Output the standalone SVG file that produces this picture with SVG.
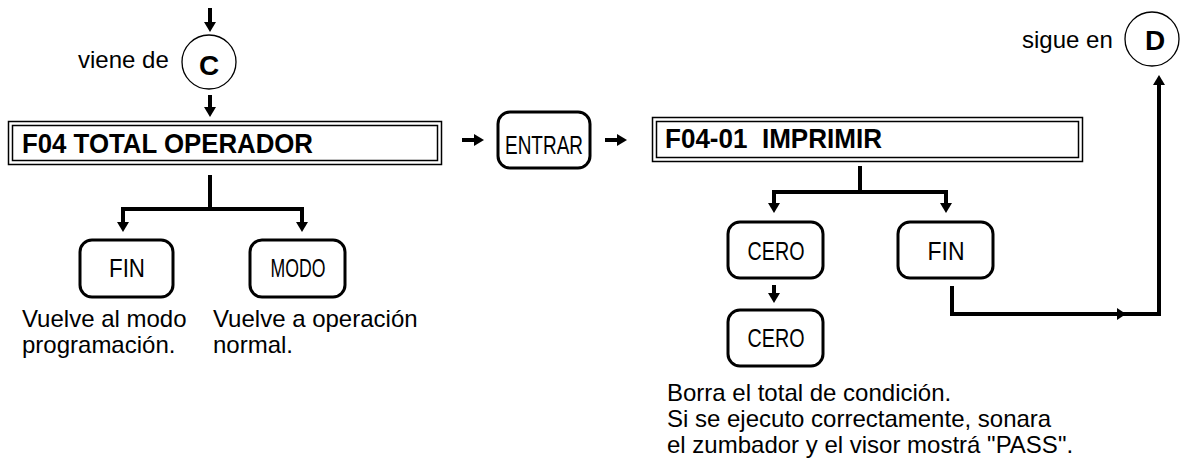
<svg xmlns="http://www.w3.org/2000/svg" width="1182" height="463" viewBox="0 0 1182 463">
<style>
.bg{fill:#fff}
.key{fill:#fff;stroke:#000;stroke-width:3}
.ring{fill:#fff;stroke:#000;stroke-width:1.3}
.frame{fill:none;stroke:#000;stroke-width:1.5}
.conn{fill:none;stroke:#000;stroke-width:4}
.t{font-family:"Liberation Sans",Arial,sans-serif;font-size:24px;fill:#000}
.k{font-family:"Liberation Sans",Arial,sans-serif;font-size:25px;fill:#000;text-anchor:middle}
.h{font-family:"Liberation Sans",Arial,sans-serif;font-size:28px;font-weight:bold;fill:#000}
.c{font-family:"Liberation Sans",Arial,sans-serif;font-size:28px;font-weight:bold;fill:#000;text-anchor:middle}
</style>
<defs>
<marker id="ah" viewBox="0 0 10 12" refX="0" refY="6" markerWidth="10" markerHeight="12" markerUnits="userSpaceOnUse" orient="auto">
<path d="M0,0 L10,6 L0,12 Z" fill="#000"/>
</marker>
</defs>
<rect class="bg" x="0" y="0" width="1182" height="463"/>

<g id="connectors">
<path class="conn" d="M210,8 V22" marker-end="url(#ah)"/>
<path class="conn" d="M210,95 V107" marker-end="url(#ah)"/>
<path class="conn" d="M210,175 V209"/>
<path class="conn" d="M121,209 H304"/>
<path class="conn" d="M123,207 V222" marker-end="url(#ah)"/>
<path class="conn" d="M302,207 V222" marker-end="url(#ah)"/>
<path class="conn" d="M462,140 H474" marker-end="url(#ah)"/>
<path class="conn" d="M605,140 H617" marker-end="url(#ah)"/>
<path class="conn" d="M860,166 V192"/>
<path class="conn" d="M772,192 H948"/>
<path class="conn" d="M774,190 V203" marker-end="url(#ah)"/>
<path class="conn" d="M946,190 V203" marker-end="url(#ah)"/>
<path class="conn" d="M774,285 V293" marker-end="url(#ah)"/>
<path class="conn" d="M952,286 V314 H1159 V85" marker-end="url(#ah)"/>
<path d="M1117,308 L1126,314 L1117,320 Z" fill="#000"/>
</g>

<g id="node-c">
<text class="t" x="78" y="68">viene de</text>
<circle class="ring" cx="209" cy="62" r="27"/>
<text class="c" x="209" y="75">C</text>
</g>

<g id="node-f04">
<rect class="frame" x="8.5" y="121.5" width="433" height="43"/>
<rect class="frame" x="12.5" y="125.5" width="425" height="35"/>
<text class="h" x="22" y="153" textLength="291" lengthAdjust="spacingAndGlyphs">F04 TOTAL OPERADOR</text>
</g>

<g id="node-fin1">
<rect class="key" x="80" y="240" width="93" height="57" rx="12"/>
<text class="k" x="127" y="277" textLength="36" lengthAdjust="spacingAndGlyphs">FIN</text>
<text class="t" x="22" y="327">Vuelve al modo</text>
<text class="t" x="22" y="353">programación.</text>
</g>

<g id="node-modo">
<rect class="key" x="250" y="240" width="95" height="57" rx="12"/>
<text class="k" x="298" y="277" textLength="55" lengthAdjust="spacingAndGlyphs">MODO</text>
<text class="t" x="213" y="327">Vuelve a operación</text>
<text class="t" x="213" y="353">normal.</text>
</g>

<g id="node-entrar">
<rect class="key" x="498" y="112" width="92" height="56" rx="12"/>
<text class="k" x="544" y="154" font-size="28" textLength="78" lengthAdjust="spacingAndGlyphs">ENTRAR</text>
</g>

<g id="node-f0401">
<rect class="frame" x="652.5" y="117.5" width="430" height="44"/>
<rect class="frame" x="656.5" y="121.5" width="422" height="36"/>
<text class="h" x="665" y="148" textLength="217" lengthAdjust="spacingAndGlyphs" xml:space="preserve">F04-01  IMPRIMIR</text>
</g>

<g id="node-cero1">
<rect class="key" x="728" y="222" width="95" height="56" rx="12"/>
<text class="k" x="776" y="260" textLength="57" lengthAdjust="spacingAndGlyphs">CERO</text>
</g>

<g id="node-cero2">
<rect class="key" x="728" y="310" width="95" height="56" rx="12"/>
<text class="k" x="776" y="347" textLength="57" lengthAdjust="spacingAndGlyphs">CERO</text>
<text class="t" x="667" y="401">Borra el total de condición.</text>
<text class="t" x="667" y="427">Si se ejecuto correctamente, sonara</text>
<text class="t" x="667" y="453">el zumbador y el visor mostrá "PASS".</text>
</g>

<g id="node-fin2">
<rect class="key" x="898" y="222" width="95" height="56" rx="12"/>
<text class="k" x="946" y="260" textLength="37" lengthAdjust="spacingAndGlyphs">FIN</text>
</g>

<g id="node-d">
<text class="t" x="1022" y="48">sigue en</text>
<circle class="ring" cx="1152" cy="39" r="27"/>
<text class="c" x="1155" y="50">D</text>
</g>
</svg>
